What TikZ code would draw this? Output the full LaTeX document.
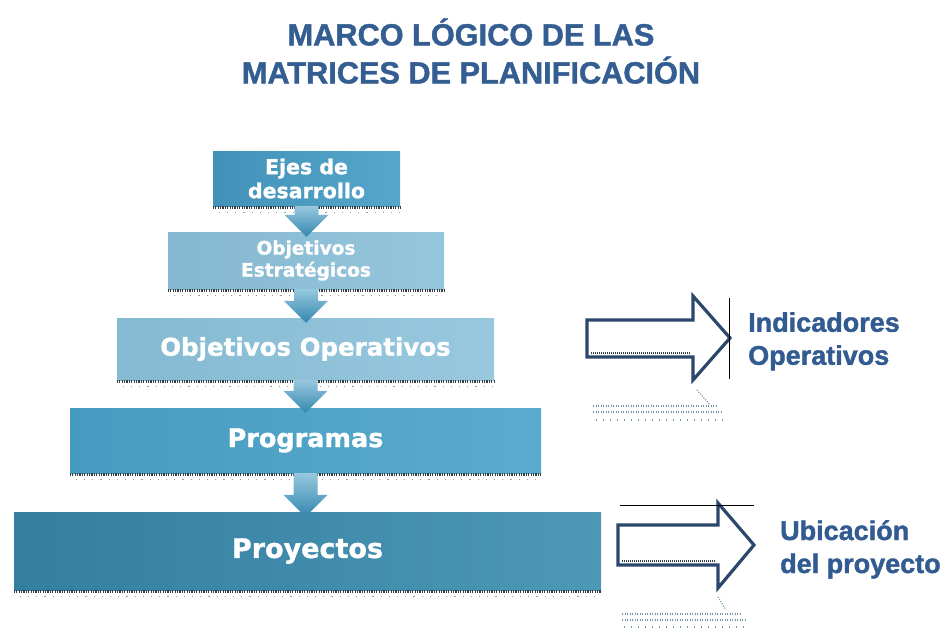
\documentclass[tikz,border=0pt]{standalone}
\usepackage{fontspec}
\setmainfont{Liberation Sans}
\newfontfamily\boxfont[FakeBold=1.2]{DejaVu Sans Bold}
\newfontfamily\headfont[FakeBold=1.4]{Liberation Sans Bold}
\usetikzlibrary{calc}
\definecolor{titleblue}{RGB}{52,94,146}
\definecolor{labelblue}{RGB}{50,92,145}
\definecolor{arrowline}{RGB}{43,72,108}
\definecolor{dotgrey}{RGB}{55,62,66}
\definecolor{dotteal}{RGB}{110,150,165}
\tikzset{
  levelbox/.style={inner sep=0pt, text=white, align=center},
  botdots/.style={draw=dotgrey, line width=2.6pt, dash pattern=on 1.2pt off 1.2pt},
  shadowdots/.style={draw=dotgrey!50, line width=1.3pt, dash pattern=on 1.2pt off 7pt},
  bigarrow/.style={draw=arrowline, line width=3.2pt, fill=white, line join=miter},
  reflect/.style={draw=dotteal, line width=1.2pt, dash pattern=on 1pt off 1.5pt},
  reflectsparse/.style={draw=dotteal, line width=1.2pt, dash pattern=on 1pt off 6pt},
  sidelabel/.style={inner sep=0pt, text=labelblue, align=left, anchor=north west,
    font=\headfont\fontsize{27}{33}\selectfont},
}
\newcommand\fatarrow[2]{%
  \path[top color={rgb,255:red,150;green,200;blue,222}, bottom color={rgb,255:red,52;green,135;blue,175}]
    let \p1=(#1.south), \p2=(#2.north) in
    (\x1-12pt,\y1) -- (\x1+12pt,\y1) -- (\x1+12pt,\y2+17pt) -- (\x1+22pt,\y2+17pt)
    -- (\x1,\y2-5pt) -- (\x1-22pt,\y2+17pt) -- (\x1-12pt,\y2+17pt) -- cycle;}
\begin{document}
\begin{tikzpicture}[x=1pt,y=-1pt]
\useasboundingbox[fill=white] (0,0) rectangle (945,633);

% title
\node[inner sep=0pt, text=titleblue, align=center,
      font=\headfont\fontsize{30.7}{38}\selectfont] (title) at (471,51)
  {MARCO LÓGICO DE LAS\\MATRICES DE PLANIFICACIÓN};

% level boxes
\node[levelbox, minimum width=187pt, minimum height=55pt,
      left color={rgb,255:red,66;green,145;blue,185}, right color={rgb,255:red,86;green,166;blue,202},
      font=\boxfont\fontsize{20.5}{24}\selectfont] (b1) at (306.5,178.5) {Ejes de\\desarrollo};
\node[levelbox, minimum width=276pt, minimum height=57pt,
      left color={rgb,255:red,132;green,184;blue,208}, right color={rgb,255:red,150;green,198;blue,220},
      font=\boxfont\fontsize{18.5}{22}\selectfont] (b2) at (306,260.5) {Objetivos\\Estratégicos};
\node[levelbox, minimum width=377pt, minimum height=62pt,
      left color={rgb,255:red,132;green,186;blue,210}, right color={rgb,255:red,152;green,200;blue,222},
      font=\boxfont\fontsize{24.5}{28}\selectfont] (b3) at (305.5,349) {Objetivos Operativos};
\node[levelbox, minimum width=471pt, minimum height=65pt,
      left color={rgb,255:red,70;green,155;blue,192}, right color={rgb,255:red,90;green,172;blue,206},
      font=\boxfont\fontsize{25.5}{30}\selectfont] (b4) at (305.5,440.5) {Programas};
\node[levelbox, minimum width=587pt, minimum height=78pt,
      left color={rgb,255:red,52;green,126;blue,160}, right color={rgb,255:red,76;green,152;blue,182},
      font=\boxfont\fontsize{27}{32}\selectfont] (b5) at (307.5,551) {Proyectos};

% dotted lower edges and shadows
\foreach \b in {b1,b2,b3,b4,b5}{
  \draw[botdots] ([yshift=-1pt]\b.south west) -- ([yshift=-1pt]\b.south east);
  \draw[shadowdots] ([yshift=-6pt,xshift=6pt]\b.south west) -- ([yshift=-6pt]\b.south east);
}

% down arrows
\fatarrow{b1}{b2}
\fatarrow{b2}{b3}
\fatarrow{b3}{b4}
\fatarrow{b4}{b5}

% right arrow 1
\coordinate (r1tip) at (730,338);
\draw[bigarrow] (587,320) -- (693,320) -- (693,296) -- (r1tip) -- (693,380) -- (693,357) -- (587,357) -- cycle;
\draw[dotgrey, line width=1.6pt, dash pattern=on 1pt off 1pt] (591,353) -- (690,353);
\draw[black, line width=0.8pt] (729,298) -- (729,379);
\draw[reflect] (593,406) -- (716,406);
\draw[reflect] (593,412) -- (722,412);
\draw[reflectsparse] (596,420) -- (724,420);
\draw[reflect] (697,390) -- (710,405);
\node[sidelabel] (lab1) at (748,312) {Indicadores\\Operativos};

% right arrow 2
\coordinate (r2tip) at (754,545);
\draw[bigarrow] (618,525) -- (718,525) -- (718,503) -- (r2tip) -- (718,588) -- (718,565) -- (618,565) -- cycle;
\draw[dotgrey, line width=1.6pt, dash pattern=on 1pt off 1pt] (622,561) -- (715,561);
\draw[black, line width=0.8pt] (620,505) -- (754,505);
\draw[reflect] (622,614) -- (742,614);
\draw[reflect] (622,620) -- (745,620);
\draw[reflectsparse] (624,627) -- (745,627);
\draw[reflect] (718,597) -- (726,610);
\node[sidelabel] (lab2) at (780,520) {Ubicación\\del proyecto};
\end{tikzpicture}
\end{document}
